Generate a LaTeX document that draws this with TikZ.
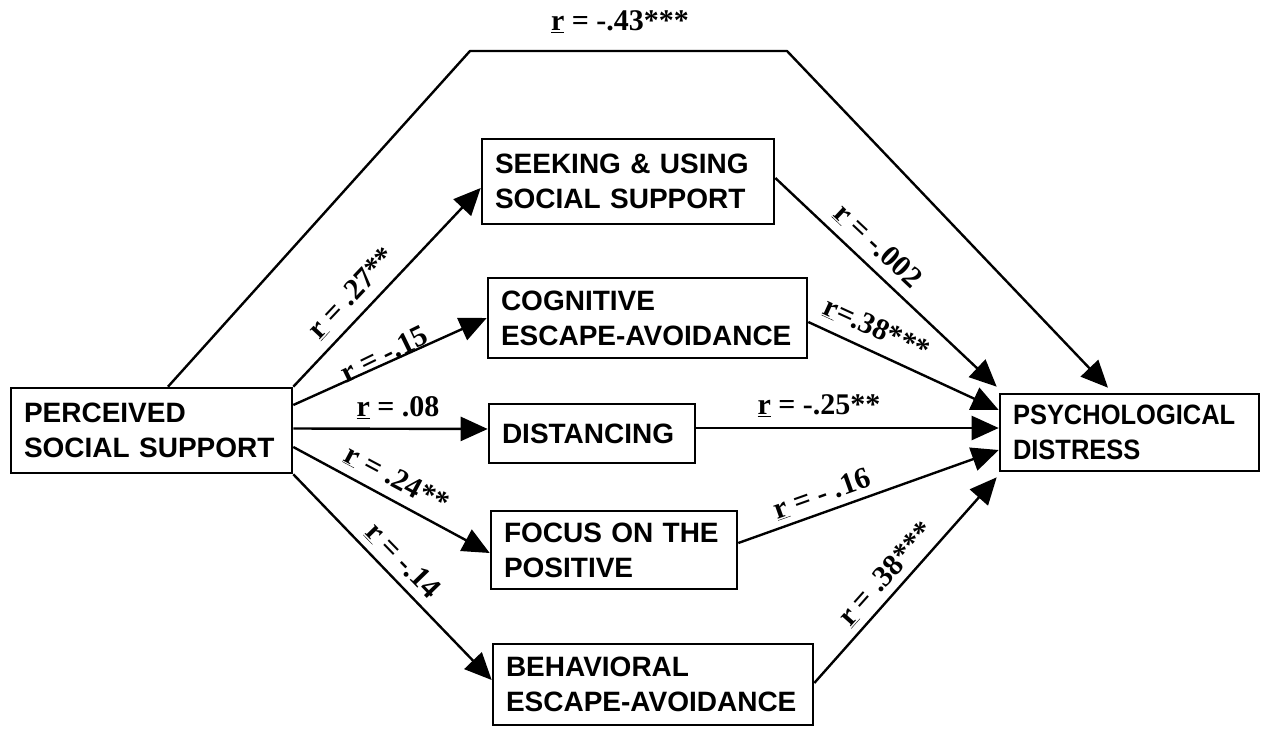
\documentclass[tikz,border=0pt]{standalone}
\usepackage{fontspec}
\setmainfont{Liberation Serif}
\newfontfamily\boxfont{Liberation Sans}
\newfontfamily\boxfontn{Liberation Sans}[FakeStretch=0.91]
\usetikzlibrary{arrows.meta,calc}
\tikzset{
  box/.style={draw, line width=2.6pt, inner xsep=13pt, inner ysep=0pt, align=left,
    font=\boxfont\bfseries\fontsize{28}{35}\selectfont},
  conn/.style={line width=2.4pt, line join=round, -{Triangle[length=27pt,width=24pt]}},
  lbl/.style={font=\bfseries\fontsize{30}{32}\selectfont, inner sep=0pt},
}
\begin{document}
\begin{tikzpicture}[x=1pt,y=-1pt]
\useasboundingbox (0,0) rectangle (1261,733);

% boxes
\node[box, minimum width=281pt, minimum height=85pt, text width=255pt] (pss) at (151.5,430.5)
  {\mbox{PERCEIVED}\\\mbox{SOCIAL SUPPORT}};
\node[box, minimum width=292pt, minimum height=85pt, text width=266pt] (seek) at (628,181.5)
  {\mbox{SEEKING \& USING}\\\mbox{SOCIAL SUPPORT}};
\node[box, minimum width=319pt, minimum height=80pt, text width=293pt] (cog) at (647.5,318)
  {\mbox{COGNITIVE}\\\mbox{ESCAPE-AVOIDANCE}};
\node[box, minimum width=206pt, minimum height=59pt, text width=180pt] (dist) at (592,433.5)
  {\mbox{DISTANCING}};
\node[box, minimum width=246pt, minimum height=78pt, text width=220pt] (focus) at (614,550)
  {\mbox{FOCUS ON THE}\\\mbox{POSITIVE}};
\node[box, minimum width=320pt, minimum height=81pt, text width=294pt] (beh) at (653,684.5)
  {\mbox{BEHAVIORAL}\\\mbox{ESCAPE-AVOIDANCE}};
\node[box, minimum width=259pt, minimum height=77pt, text width=233pt,
  font=\boxfontn\bfseries\fontsize{28}{35}\selectfont] (pd) at (1129.5,432.5)
  {\mbox{PSYCHOLOGICAL}\\\mbox{DISTRESS}};

% top path
\coordinate (tl) at (470,51);
\coordinate (tr) at (787,51);
\draw[conn] ([xshift=16.5pt]pss.north) -- (tl) -- (tr) -- ([shift={(-21.5pt,5pt)}]pd.north);

% from PSS
\draw[conn] (pss.north east) -- ([yshift=-6.5pt]seek.west);
\draw[conn] ([yshift=25.5pt]pss.east) -- (cog.west);
\draw[conn] ([yshift=2pt]pss.east) -- ([yshift=4.5pt]dist.west);
\draw[conn] ([yshift=-16.5pt]pss.east) -- ([yshift=-3pt]focus.west);
\draw[conn] (pss.south east) -- ([yshift=4.5pt]beh.west);

% to PD
\draw[conn] ([yshift=3.5pt]seek.east) -- ([shift={(-2pt,6pt)}]pd.north west);
\draw[conn] ([yshift=-4pt]cog.east) -- ([yshift=22.5pt]pd.west);
\draw[conn] ([yshift=5.5pt]dist.east) -- ([yshift=4.5pt]pd.west);
\draw[conn] ([yshift=7pt]focus.east) -- ([yshift=-17.5pt]pd.west);
\draw[conn] ([yshift=1.5pt]beh.east) -- ([shift={(-2pt,-5pt)}]pd.south west);

% labels
\node[lbl] (l43) at (620,22) {\underline{r} = -.43***};
\node[lbl, rotate=46.6] (l27) at (352,293) {\underline{r} = .27**};
\node[lbl, rotate=26] (l15) at (384,354) {r = -.15};
\node[lbl] (l08) at (398,408) {\underline{r} = .08};
\node[lbl, rotate=-28] (l24) at (397,479) {\underline{r} = .24**};
\node[lbl, rotate=-45.8] (l14) at (403,561) {\underline{r} = -.14};
\node[lbl, rotate=-43.2] (l002) at (878,246) {\underline{r} = -.002};
\node[lbl, rotate=-24.6] (l38a) at (877,329) {\underline{r}=.38***};
\node[lbl] (l25) at (819,406) {\underline{r} = -.25**};
\node[lbl, rotate=19.5] (l16) at (822,494) {\underline{r} = - .16};
\node[lbl, rotate=48.2] (l38b) at (886,574) {\underline{r} = .38***};
\end{tikzpicture}
\end{document}
